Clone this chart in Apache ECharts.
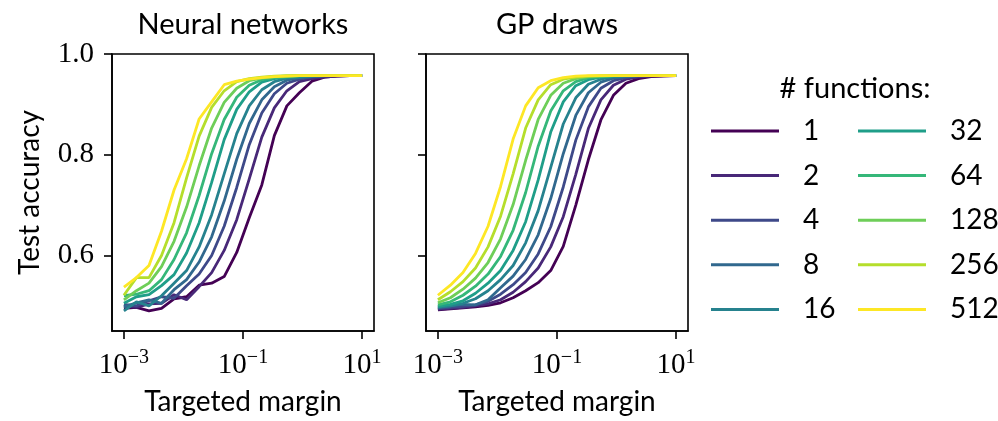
<!DOCTYPE html>
<html><head><meta charset="utf-8">
<script src="https://cdn.jsdelivr.net/npm/echarts@6/dist/echarts.min.js"></script>
<style>html,body{margin:0;padding:0;background:#fff}#c{width:998px;height:421px}</style>
</head><body><div id="c"></div><script>
// Targeted margins (x values, log-spaced from 1e-3 to 1e1)
const margins = [0.001, 0.001624, 0.002637, 0.004281, 0.006952, 0.011288, 0.018330, 0.029764, 0.048329, 0.078476,
  0.127427, 0.206914, 0.335982, 0.545559, 0.885867, 1.438450, 2.335721, 3.792690, 6.158482, 10];

const funcCounts = ['1', '2', '4', '8', '16', '32', '64', '128', '256', '512'];
const xTickValues = [-3, -1, 1];
const yTickValues = [0.6, 0.8, 1.0];

// Neural networks: test accuracy
const nn1   = [0.495,0.497,0.490,0.495,0.514,0.518,0.541,0.545,0.558,0.606,0.675,0.740,0.838,0.897,0.923,0.946,0.954,0.956,0.957,0.957];
const nn2   = [0.500,0.497,0.504,0.505,0.522,0.512,0.538,0.566,0.610,0.671,0.752,0.835,0.893,0.927,0.945,0.951,0.954,0.956,0.957,0.957];
const nn4   = [0.503,0.500,0.510,0.518,0.515,0.540,0.563,0.600,0.658,0.735,0.820,0.883,0.921,0.942,0.950,0.954,0.956,0.957,0.957,0.957];
const nn8   = [0.498,0.506,0.512,0.505,0.532,0.552,0.587,0.637,0.708,0.791,0.862,0.909,0.935,0.948,0.953,0.955,0.957,0.957,0.957,0.957];
const nn16  = [0.490,0.508,0.500,0.520,0.545,0.570,0.617,0.681,0.762,0.842,0.897,0.929,0.945,0.952,0.954,0.956,0.957,0.957,0.957,0.957];
const nn32  = [0.505,0.518,0.522,0.540,0.562,0.605,0.665,0.745,0.830,0.890,0.925,0.944,0.951,0.954,0.956,0.957,0.957,0.957,0.957,0.957];
const nn64  = [0.520,0.523,0.530,0.552,0.592,0.645,0.719,0.802,0.870,0.914,0.938,0.949,0.953,0.955,0.957,0.957,0.957,0.957,0.957,0.957];
const nn128 = [0.512,0.530,0.545,0.578,0.628,0.696,0.778,0.853,0.904,0.932,0.947,0.952,0.955,0.956,0.957,0.957,0.957,0.957,0.957,0.957];
const nn256 = [0.521,0.556,0.556,0.600,0.665,0.754,0.837,0.894,0.927,0.945,0.951,0.954,0.956,0.957,0.957,0.957,0.957,0.957,0.957,0.957];
const nn512 = [0.537,0.556,0.580,0.648,0.730,0.792,0.871,0.905,0.939,0.946,0.950,0.953,0.955,0.956,0.957,0.957,0.957,0.957,0.957,0.957];

// GP draws: test accuracy
const gp1   = [0.492,0.494,0.496,0.498,0.501,0.506,0.516,0.530,0.546,0.570,0.618,0.700,0.790,0.869,0.918,0.942,0.951,0.955,0.956,0.957];
const gp2   = [0.493,0.495,0.497,0.500,0.504,0.512,0.527,0.548,0.575,0.617,0.677,0.761,0.852,0.909,0.938,0.950,0.954,0.956,0.957,0.957];
const gp4   = [0.495,0.497,0.499,0.502,0.509,0.523,0.542,0.566,0.603,0.657,0.736,0.829,0.895,0.932,0.947,0.953,0.956,0.957,0.957,0.957];
const gp8   = [0.496,0.500,0.503,0.502,0.512,0.536,0.559,0.592,0.641,0.713,0.802,0.878,0.923,0.944,0.952,0.955,0.957,0.957,0.957,0.957];
const gp16  = [0.498,0.500,0.505,0.514,0.530,0.552,0.580,0.625,0.689,0.775,0.861,0.913,0.940,0.950,0.955,0.956,0.957,0.957,0.957,0.957];
const gp32  = [0.499,0.503,0.510,0.525,0.545,0.570,0.610,0.667,0.750,0.845,0.905,0.937,0.949,0.954,0.956,0.957,0.957,0.957,0.957,0.957];
const gp64  = [0.502,0.508,0.521,0.539,0.563,0.598,0.650,0.725,0.817,0.887,0.927,0.945,0.953,0.955,0.957,0.957,0.957,0.957,0.957,0.957];
const gp128 = [0.506,0.516,0.533,0.555,0.586,0.633,0.701,0.789,0.870,0.918,0.942,0.951,0.955,0.956,0.957,0.957,0.957,0.957,0.957,0.957];
const gp256 = [0.512,0.528,0.548,0.575,0.617,0.678,0.762,0.853,0.909,0.939,0.950,0.954,0.956,0.957,0.957,0.957,0.957,0.957,0.957,0.957];
const gp512 = [0.521,0.541,0.566,0.604,0.658,0.737,0.831,0.897,0.933,0.947,0.953,0.956,0.957,0.957,0.957,0.957,0.957,0.957,0.957,0.957];

const viridis = ['#440154','#482878','#3e4989','#31688e','#26828e','#1f9e89','#35b779','#6ece58','#b5de2b','#fde725'];

const nnAll = [nn1, nn2, nn4, nn8, nn16, nn32, nn64, nn128, nn256, nn512];
const gpAll = [gp1, gp2, gp4, gp8, gp16, gp32, gp64, gp128, gp256, gp512];

const SANS = 'Lato, "Noto Sans", sans-serif';
const SERIF = '"Liberation Serif", "DejaVu Serif", serif';

function mkSeries(arr, k, idx) {
  return {
    type: 'line', name: funcCounts[k], xAxisIndex: idx, yAxisIndex: idx,
    data: margins.map((m, i) => [Math.log10(m), arr[i]]),
    symbol: 'none', showSymbol: false, silent: true,
    lineStyle: { width: 2.8, color: viridis[k] },
    itemStyle: { color: viridis[k] },
    z: 2 + k
  };
}
const series = [];
nnAll.forEach((a, k) => series.push(mkSeries(a, k, 0)));
gpAll.forEach((a, k) => series.push(mkSeries(a, k, 1)));

function xLabelFmt(v) {
  const e = Math.round(v);
  return '{b|10}{s|' + (e < 0 ? '\u2212' + (-e) : String(e)) + '}';
}
const xRich = {
  b: { fontFamily: SERIF, fontSize: 29, color: '#000', lineHeight: 32, verticalAlign: 'bottom' },
  s: { fontFamily: SERIF, fontSize: 20, color: '#000', lineHeight: 20, verticalAlign: 'top' }
};

function mkX(gi) {
  return {
    type: 'value', gridIndex: gi, min: -3.2, max: 1.2,
    axisLine: { show: true, onZero: false, lineStyle: { color: '#000', width: 1.6 } },
    axisTick: { show: true, customValues: xTickValues, length: 8, lineStyle: { color: '#000', width: 1.6 } },
    axisLabel: { show: true, customValues: xTickValues, formatter: xLabelFmt, rich: xRich, margin: 17 },
    splitLine: { show: false },
    name: 'Targeted margin', nameLocation: 'middle', nameGap: 57,
    nameTextStyle: { fontFamily: SANS, fontSize: 28, color: '#000' }
  };
}
function mkY(gi, showLabels) {
  return {
    type: 'value', gridIndex: gi, min: 0.45, max: 1.0,
    axisLine: { show: true, onZero: false, lineStyle: { color: '#000', width: 1.6 } },
    axisTick: { show: true, customValues: yTickValues, length: 8, lineStyle: { color: '#000', width: 1.6 } },
    axisLabel: { show: showLabels, customValues: yTickValues, formatter: v => v.toFixed(1),
      fontFamily: SERIF, fontSize: 29, color: '#000', margin: 18 },
    splitLine: { show: false },
    name: showLabels ? 'Test accuracy' : '', nameLocation: 'middle', nameGap: 68,
    nameTextStyle: { fontFamily: SANS, fontSize: 28, color: '#000' }
  };
}

const legendCommon = {
  orient: 'vertical', icon: 'rect', itemWidth: 68, itemHeight: 3, itemGap: 14.6, padding: 0,
  selectedMode: false,
  textStyle: { fontFamily: SANS, fontSize: 28, color: '#000', lineHeight: 30, padding: [0, 0, 0, 19] }
};

const option = {
  animation: false,
  backgroundColor: '#fff',
  title: [
    { text: 'Neural networks', left: 243, top: 10, textAlign: 'center', padding: 0,
      textStyle: { fontFamily: SANS, fontSize: 29, fontWeight: 'normal', color: '#000' } },
    { text: 'GP draws', left: 557, top: 10, textAlign: 'center', padding: 0,
      textStyle: { fontFamily: SANS, fontSize: 29, fontWeight: 'normal', color: '#000' } },
    { text: '# functions:', left: 855, top: 74, textAlign: 'center', padding: 0,
      textStyle: { fontFamily: SANS, fontSize: 29, fontWeight: 'normal', color: '#000' } }
  ],
  legend: [
    Object.assign({}, legendCommon, { left: 711, top: 116, data: funcCounts.slice(0, 5) }),
    Object.assign({}, legendCommon, { left: 858, top: 116, data: funcCounts.slice(5) })
  ],
  grid: [
    { left: 112, top: 54, width: 262, height: 280, show: true, borderColor: '#000', borderWidth: 1.6, backgroundColor: 'transparent' },
    { left: 426, top: 54, width: 262, height: 280, show: true, borderColor: '#000', borderWidth: 1.6, backgroundColor: 'transparent' }
  ],
  xAxis: [mkX(0), mkX(1)],
  yAxis: [mkY(0, true), mkY(1, false)],
  series: series
};
const chart = echarts.init(document.getElementById('c'), null, { renderer: 'canvas' });
chart.setOption(option);
</script></body></html>
